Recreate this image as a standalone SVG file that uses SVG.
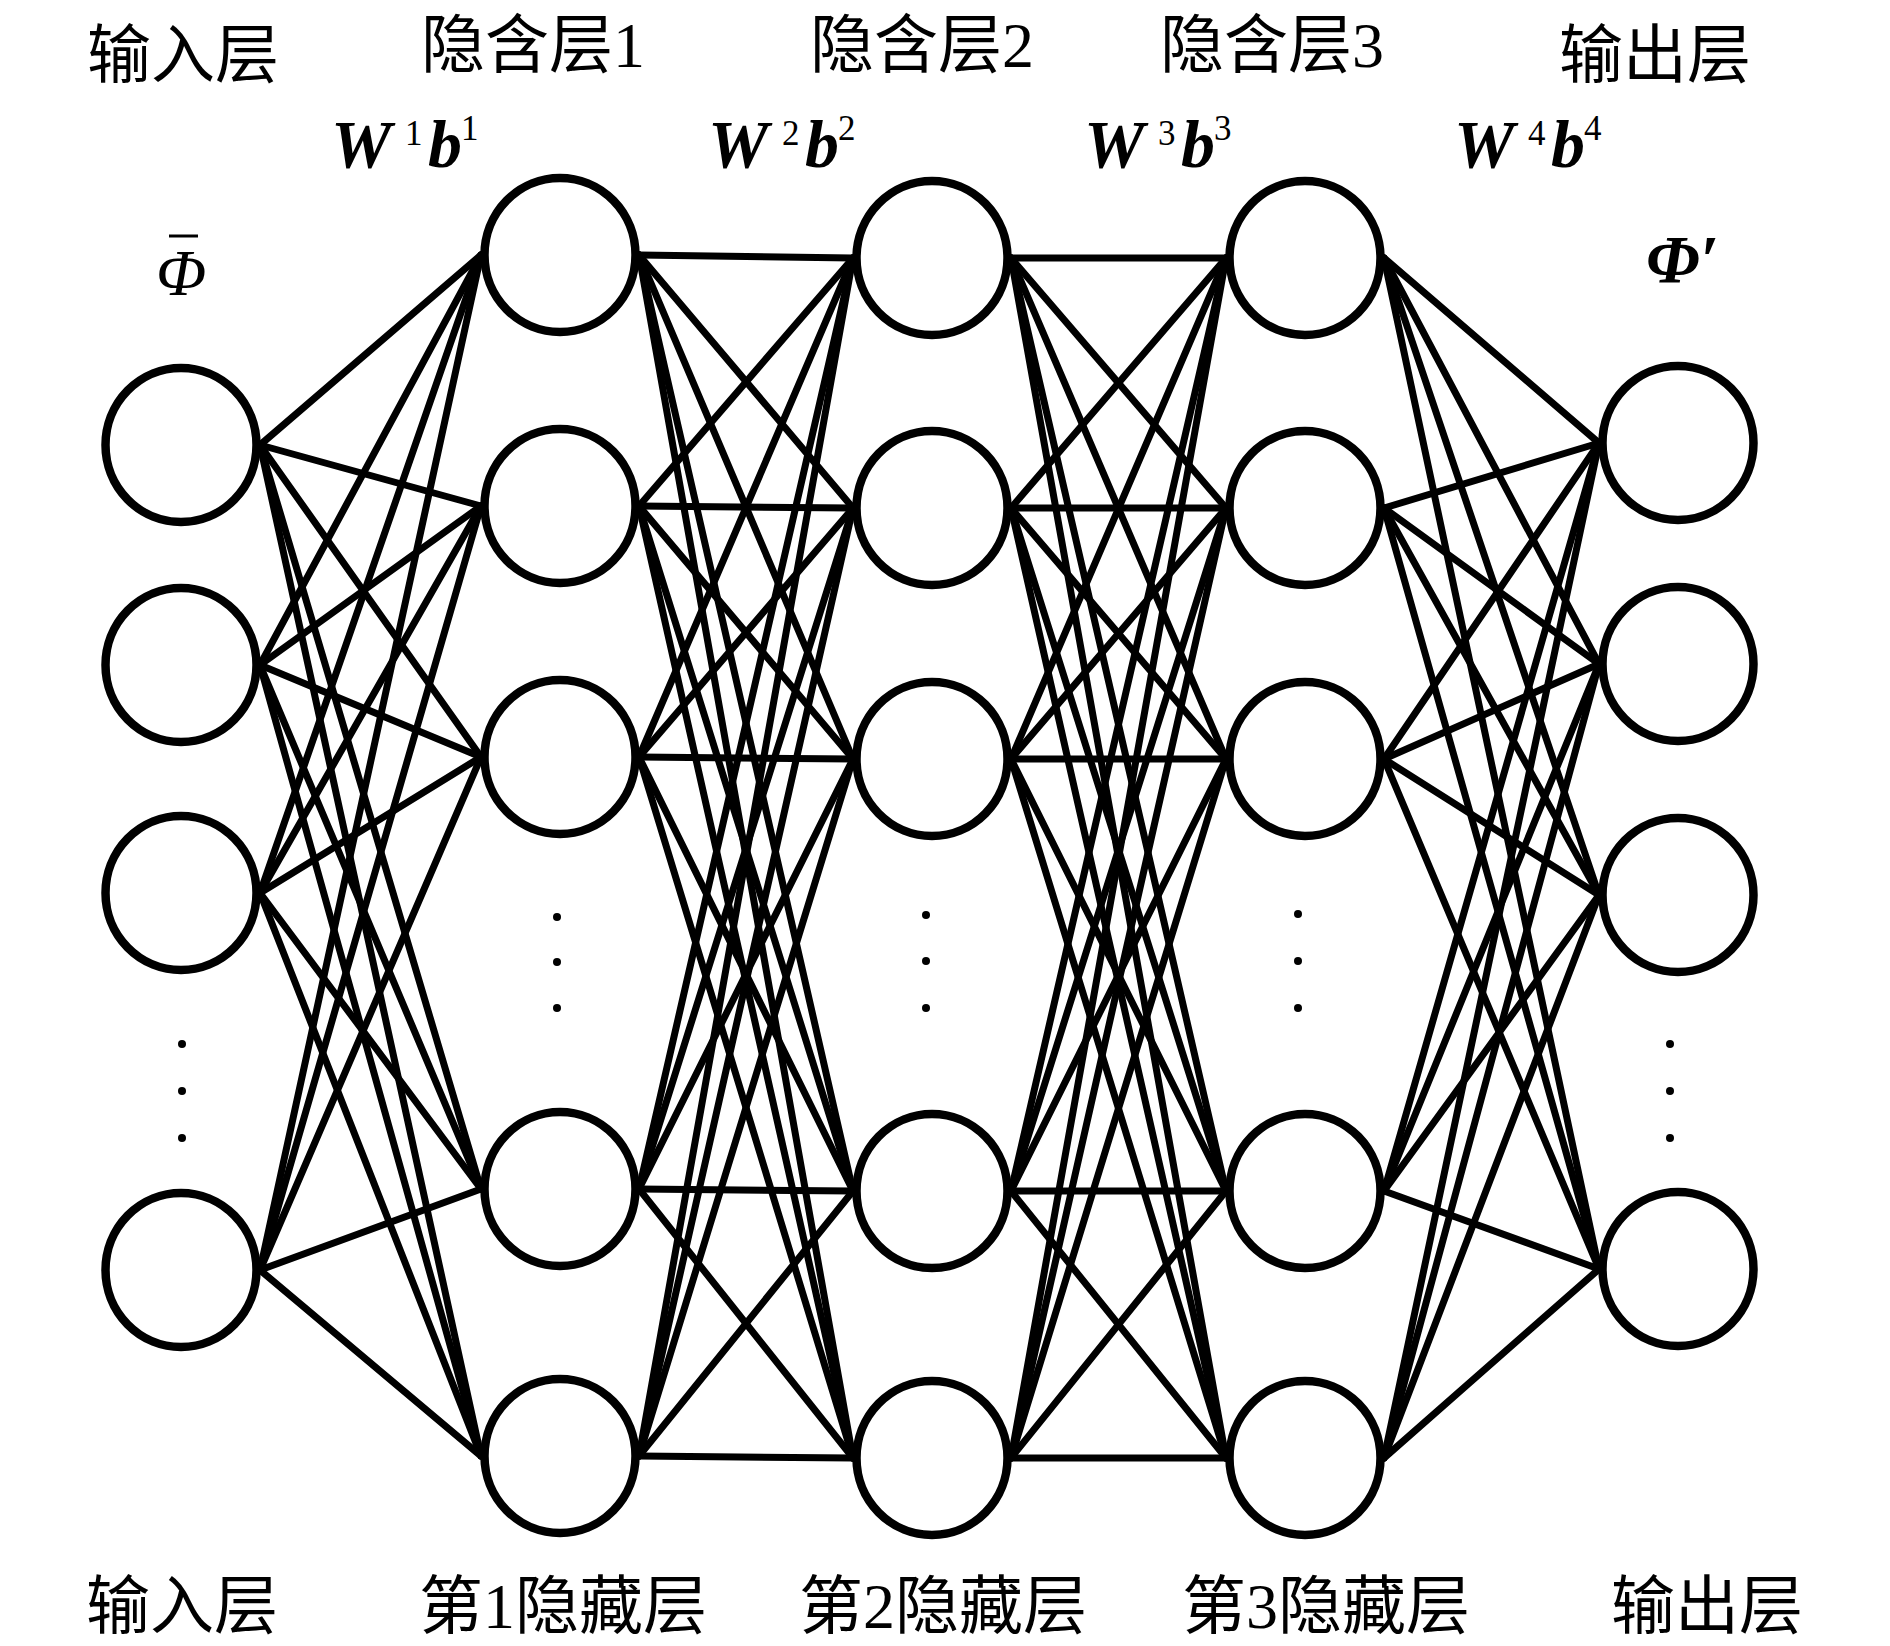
<svg xmlns="http://www.w3.org/2000/svg" width="1890" height="1646" viewBox="0 0 1890 1646">
<style>
.bg{fill:#fff}
.n{fill:#fff;stroke:#000;stroke-width:8.5}
.e line{stroke:#000;stroke-width:7;stroke-linecap:round}
.d{fill:#000}
.lbl{font-family:"Liberation Serif","Noto Sans CJK SC",serif;font-size:64px;fill:#000;text-anchor:middle}
.m{font-family:"Liberation Serif",serif;font-size:68px;font-style:italic;font-weight:bold;fill:#000}
.mi{font-family:"Liberation Serif",serif;font-size:66px;font-style:italic;fill:#000}
.s{font-family:"Liberation Serif",serif;font-size:35px;fill:#000}
</style>
<rect class="bg" x="0" y="0" width="1890" height="1646"/>
<g id="connectors" class="e">
<!-- input -> hidden1 -->
<line x1="260" y1="445" x2="481" y2="255"/><line x1="260" y1="445" x2="481" y2="506"/><line x1="260" y1="445" x2="481" y2="757"/><line x1="260" y1="445" x2="481" y2="1189"/><line x1="260" y1="445" x2="481" y2="1456"/>
<line x1="260" y1="665" x2="481" y2="255"/><line x1="260" y1="665" x2="481" y2="506"/><line x1="260" y1="665" x2="481" y2="757"/><line x1="260" y1="665" x2="481" y2="1189"/><line x1="260" y1="665" x2="481" y2="1456"/>
<line x1="260" y1="893" x2="481" y2="255"/><line x1="260" y1="893" x2="481" y2="506"/><line x1="260" y1="893" x2="481" y2="757"/><line x1="260" y1="893" x2="481" y2="1189"/><line x1="260" y1="893" x2="481" y2="1456"/>
<line x1="260" y1="1270" x2="481" y2="255"/><line x1="260" y1="1270" x2="481" y2="506"/><line x1="260" y1="1270" x2="481" y2="757"/><line x1="260" y1="1270" x2="481" y2="1189"/><line x1="260" y1="1270" x2="481" y2="1456"/>
<!-- hidden1 -> hidden2 -->
<line x1="639" y1="255" x2="853" y2="258"/><line x1="639" y1="255" x2="853" y2="508"/><line x1="639" y1="255" x2="853" y2="759"/><line x1="639" y1="255" x2="853" y2="1191"/><line x1="639" y1="255" x2="853" y2="1458"/>
<line x1="639" y1="506" x2="853" y2="258"/><line x1="639" y1="506" x2="853" y2="508"/><line x1="639" y1="506" x2="853" y2="759"/><line x1="639" y1="506" x2="853" y2="1191"/><line x1="639" y1="506" x2="853" y2="1458"/>
<line x1="639" y1="757" x2="853" y2="258"/><line x1="639" y1="757" x2="853" y2="508"/><line x1="639" y1="757" x2="853" y2="759"/><line x1="639" y1="757" x2="853" y2="1191"/><line x1="639" y1="757" x2="853" y2="1458"/>
<line x1="639" y1="1189" x2="853" y2="258"/><line x1="639" y1="1189" x2="853" y2="508"/><line x1="639" y1="1189" x2="853" y2="759"/><line x1="639" y1="1189" x2="853" y2="1191"/><line x1="639" y1="1189" x2="853" y2="1458"/>
<line x1="639" y1="1456" x2="853" y2="258"/><line x1="639" y1="1456" x2="853" y2="508"/><line x1="639" y1="1456" x2="853" y2="759"/><line x1="639" y1="1456" x2="853" y2="1191"/><line x1="639" y1="1456" x2="853" y2="1458"/>
<!-- hidden2 -> hidden3 -->
<line x1="1011" y1="258" x2="1226" y2="258"/><line x1="1011" y1="258" x2="1226" y2="508"/><line x1="1011" y1="258" x2="1226" y2="759"/><line x1="1011" y1="258" x2="1226" y2="1191"/><line x1="1011" y1="258" x2="1226" y2="1458"/>
<line x1="1011" y1="508" x2="1226" y2="258"/><line x1="1011" y1="508" x2="1226" y2="508"/><line x1="1011" y1="508" x2="1226" y2="759"/><line x1="1011" y1="508" x2="1226" y2="1191"/><line x1="1011" y1="508" x2="1226" y2="1458"/>
<line x1="1011" y1="759" x2="1226" y2="258"/><line x1="1011" y1="759" x2="1226" y2="508"/><line x1="1011" y1="759" x2="1226" y2="759"/><line x1="1011" y1="759" x2="1226" y2="1191"/><line x1="1011" y1="759" x2="1226" y2="1458"/>
<line x1="1011" y1="1191" x2="1226" y2="258"/><line x1="1011" y1="1191" x2="1226" y2="508"/><line x1="1011" y1="1191" x2="1226" y2="759"/><line x1="1011" y1="1191" x2="1226" y2="1191"/><line x1="1011" y1="1191" x2="1226" y2="1458"/>
<line x1="1011" y1="1458" x2="1226" y2="258"/><line x1="1011" y1="1458" x2="1226" y2="508"/><line x1="1011" y1="1458" x2="1226" y2="759"/><line x1="1011" y1="1458" x2="1226" y2="1191"/><line x1="1011" y1="1458" x2="1226" y2="1458"/>
<!-- hidden3 -> output -->
<line x1="1384" y1="258" x2="1599" y2="443"/><line x1="1384" y1="258" x2="1599" y2="664"/><line x1="1384" y1="258" x2="1599" y2="895"/><line x1="1384" y1="258" x2="1599" y2="1269"/>
<line x1="1384" y1="508" x2="1599" y2="443"/><line x1="1384" y1="508" x2="1599" y2="664"/><line x1="1384" y1="508" x2="1599" y2="895"/><line x1="1384" y1="508" x2="1599" y2="1269"/>
<line x1="1384" y1="759" x2="1599" y2="443"/><line x1="1384" y1="759" x2="1599" y2="664"/><line x1="1384" y1="759" x2="1599" y2="895"/><line x1="1384" y1="759" x2="1599" y2="1269"/>
<line x1="1384" y1="1191" x2="1599" y2="443"/><line x1="1384" y1="1191" x2="1599" y2="664"/><line x1="1384" y1="1191" x2="1599" y2="895"/><line x1="1384" y1="1191" x2="1599" y2="1269"/>
<line x1="1384" y1="1458" x2="1599" y2="443"/><line x1="1384" y1="1458" x2="1599" y2="664"/><line x1="1384" y1="1458" x2="1599" y2="895"/><line x1="1384" y1="1458" x2="1599" y2="1269"/>
</g>
<g id="input-layer">
<ellipse id="in1" class="n" cx="181" cy="445" rx="75.5" ry="77"/>
<ellipse id="in2" class="n" cx="181" cy="665" rx="75.5" ry="77"/>
<ellipse id="in3" class="n" cx="181" cy="893" rx="75.5" ry="77"/>
<ellipse id="in4" class="n" cx="181" cy="1270" rx="75.5" ry="77"/>
<circle class="d" cx="182" cy="1044" r="4"/><circle class="d" cx="182" cy="1091" r="4"/><circle class="d" cx="182" cy="1138" r="4"/>
</g>
<g id="hidden-layer-1">
<ellipse id="h1n1" class="n" cx="560" cy="255" rx="75.5" ry="77"/>
<ellipse id="h1n2" class="n" cx="560" cy="506" rx="75.5" ry="77"/>
<ellipse id="h1n3" class="n" cx="560" cy="757" rx="75.5" ry="77"/>
<ellipse id="h1n4" class="n" cx="560" cy="1189" rx="75.5" ry="77"/>
<ellipse id="h1n5" class="n" cx="560" cy="1456" rx="75.5" ry="77"/>
<circle class="d" cx="557" cy="917" r="4"/><circle class="d" cx="557" cy="962" r="4"/><circle class="d" cx="557" cy="1008" r="4"/>
</g>
<g id="hidden-layer-2">
<ellipse id="h2n1" class="n" cx="932" cy="258" rx="75.5" ry="77"/>
<ellipse id="h2n2" class="n" cx="932" cy="508" rx="75.5" ry="77"/>
<ellipse id="h2n3" class="n" cx="932" cy="759" rx="75.5" ry="77"/>
<ellipse id="h2n4" class="n" cx="932" cy="1191" rx="75.5" ry="77"/>
<ellipse id="h2n5" class="n" cx="932" cy="1458" rx="75.5" ry="77"/>
<circle class="d" cx="926" cy="915" r="4"/><circle class="d" cx="926" cy="961" r="4"/><circle class="d" cx="926" cy="1008" r="4"/>
</g>
<g id="hidden-layer-3">
<ellipse id="h3n1" class="n" cx="1305" cy="258" rx="75.5" ry="77"/>
<ellipse id="h3n2" class="n" cx="1305" cy="508" rx="75.5" ry="77"/>
<ellipse id="h3n3" class="n" cx="1305" cy="759" rx="75.5" ry="77"/>
<ellipse id="h3n4" class="n" cx="1305" cy="1191" rx="75.5" ry="77"/>
<ellipse id="h3n5" class="n" cx="1305" cy="1458" rx="75.5" ry="77"/>
<circle class="d" cx="1298" cy="914" r="4"/><circle class="d" cx="1298" cy="961" r="4"/><circle class="d" cx="1298" cy="1008" r="4"/>
</g>
<g id="output-layer">
<ellipse id="out1" class="n" cx="1678" cy="443" rx="75.5" ry="77"/>
<ellipse id="out2" class="n" cx="1678" cy="664" rx="75.5" ry="77"/>
<ellipse id="out3" class="n" cx="1678" cy="895" rx="75.5" ry="77"/>
<ellipse id="out4" class="n" cx="1678" cy="1269" rx="75.5" ry="77"/>
<circle class="d" cx="1670" cy="1044" r="4"/><circle class="d" cx="1670" cy="1091" r="4"/><circle class="d" cx="1670" cy="1138" r="4"/>
</g>
<g id="top-labels">
<text class="lbl" x="183" y="77">输入层</text>
<text class="lbl" x="533" y="67">隐含层1</text>
<text class="lbl" x="922" y="67">隐含层2</text>
<text class="lbl" x="1272" y="67">隐含层3</text>
<text class="lbl" x="1655" y="77">输出层</text>
</g>
<g id="bottom-labels">
<text class="lbl" x="182" y="1628">输入层</text>
<text class="lbl" x="563" y="1628">第1隐藏层</text>
<text class="lbl" x="943" y="1628">第2隐藏层</text>
<text class="lbl" x="1326" y="1628">第3隐藏层</text>
<text class="lbl" x="1707" y="1628">输出层</text>
</g>
<g id="weights">
<text class="m" x="331" y="167">W</text><text class="s" x="405" y="145">1</text><text class="m" x="428" y="167">b</text><text class="s" x="461" y="140">1</text>
<text class="m" x="708" y="167">W</text><text class="s" x="782" y="145">2</text><text class="m" x="805" y="167">b</text><text class="s" x="838" y="140">2</text>
<text class="m" x="1084" y="167">W</text><text class="s" x="1158" y="145">3</text><text class="m" x="1181" y="167">b</text><text class="s" x="1214" y="140">3</text>
<text class="m" x="1454" y="167">W</text><text class="s" x="1528" y="145">4</text><text class="m" x="1551" y="167">b</text><text class="s" x="1584" y="140">4</text>
</g>
<g id="symbols">
<text class="mi" x="181" y="295" text-anchor="middle">Φ</text>
<line x1="169" y1="236" x2="198" y2="236" stroke="#000" stroke-width="3"/>
<text class="m" x="1646" y="282">Φ′</text>
</g>
</svg>
